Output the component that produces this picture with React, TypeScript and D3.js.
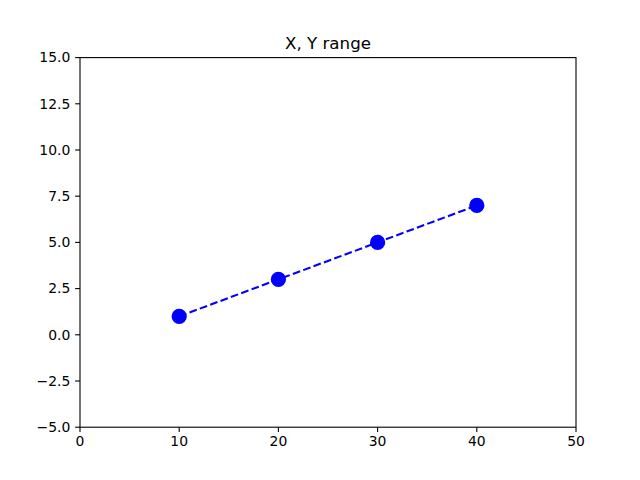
import React from "react";
import * as d3 from "d3";

const xValues = [10, 20, 30, 40];
const yValues = [1, 3, 5, 7];
const xTicks = [0, 10, 20, 30, 40, 50];
const yTicks = [-5, -2.5, 0, 2.5, 5, 7.5, 10, 12.5, 15];
const title = "X, Y range";

export default function App() {
  const W = 640, H = 480;
  const left = 80, right = 576, top = 57.6, bottom = 427.2;
  const x = d3.scaleLinear().domain([0, 50]).range([left, right]);
  const y = d3.scaleLinear().domain([-5, 15]).range([bottom, top]);
  const pts = xValues.map((v, i) => [v, yValues[i]] as [number, number]);
  const line = d3.line<[number, number]>().x(d => x(d[0])).y(d => y(d[1]));
  const font = "DejaVu Sans, sans-serif";
  return (
    <svg width={W} height={H} style={{ position: "absolute", left: 0, top: 0, background: "#fff" }}>
      <rect x={0} y={0} width={W} height={H} fill="#fff" />
      <path d={line(pts) || ""} fill="none" stroke="#0000ff" strokeWidth={2.08} strokeDasharray="7.7 3.33" />
      {pts.map((d, i) => (
        <circle key={i} cx={x(d[0])} cy={y(d[1])} r={6.95} fill="#0000ff" stroke="#0000ff" strokeWidth={1.4} />
      ))}
      <rect x={left} y={top} width={right - left} height={bottom - top} fill="none" stroke="#000" strokeWidth={1.1} />
      {xTicks.map(t => (
        <g key={t}>
          <line x1={x(t)} x2={x(t)} y1={bottom} y2={bottom + 4.86} stroke="#000" strokeWidth={1.1} />
          <text x={x(t)} y={bottom + 18.5} textAnchor="middle" fontFamily={font} fontSize={13.9} fill="#000">{t}</text>
        </g>
      ))}
      {yTicks.map(t => (
        <g key={t}>
          <line x1={left - 4.86} x2={left} y1={y(t)} y2={y(t)} stroke="#000" strokeWidth={1.1} />
          <text x={left - 9.7} y={y(t)} dy="0.35em" textAnchor="end" fontFamily={font} fontSize={13.9} fill="#000">{t.toFixed(1).replace("-", "\u2212")}</text>
        </g>
      ))}
      <text x={(left + right) / 2} y={top - 8.3} textAnchor="middle" fontFamily={font} fontSize={16.67} fill="#000">{title}</text>
    </svg>
  );
}
